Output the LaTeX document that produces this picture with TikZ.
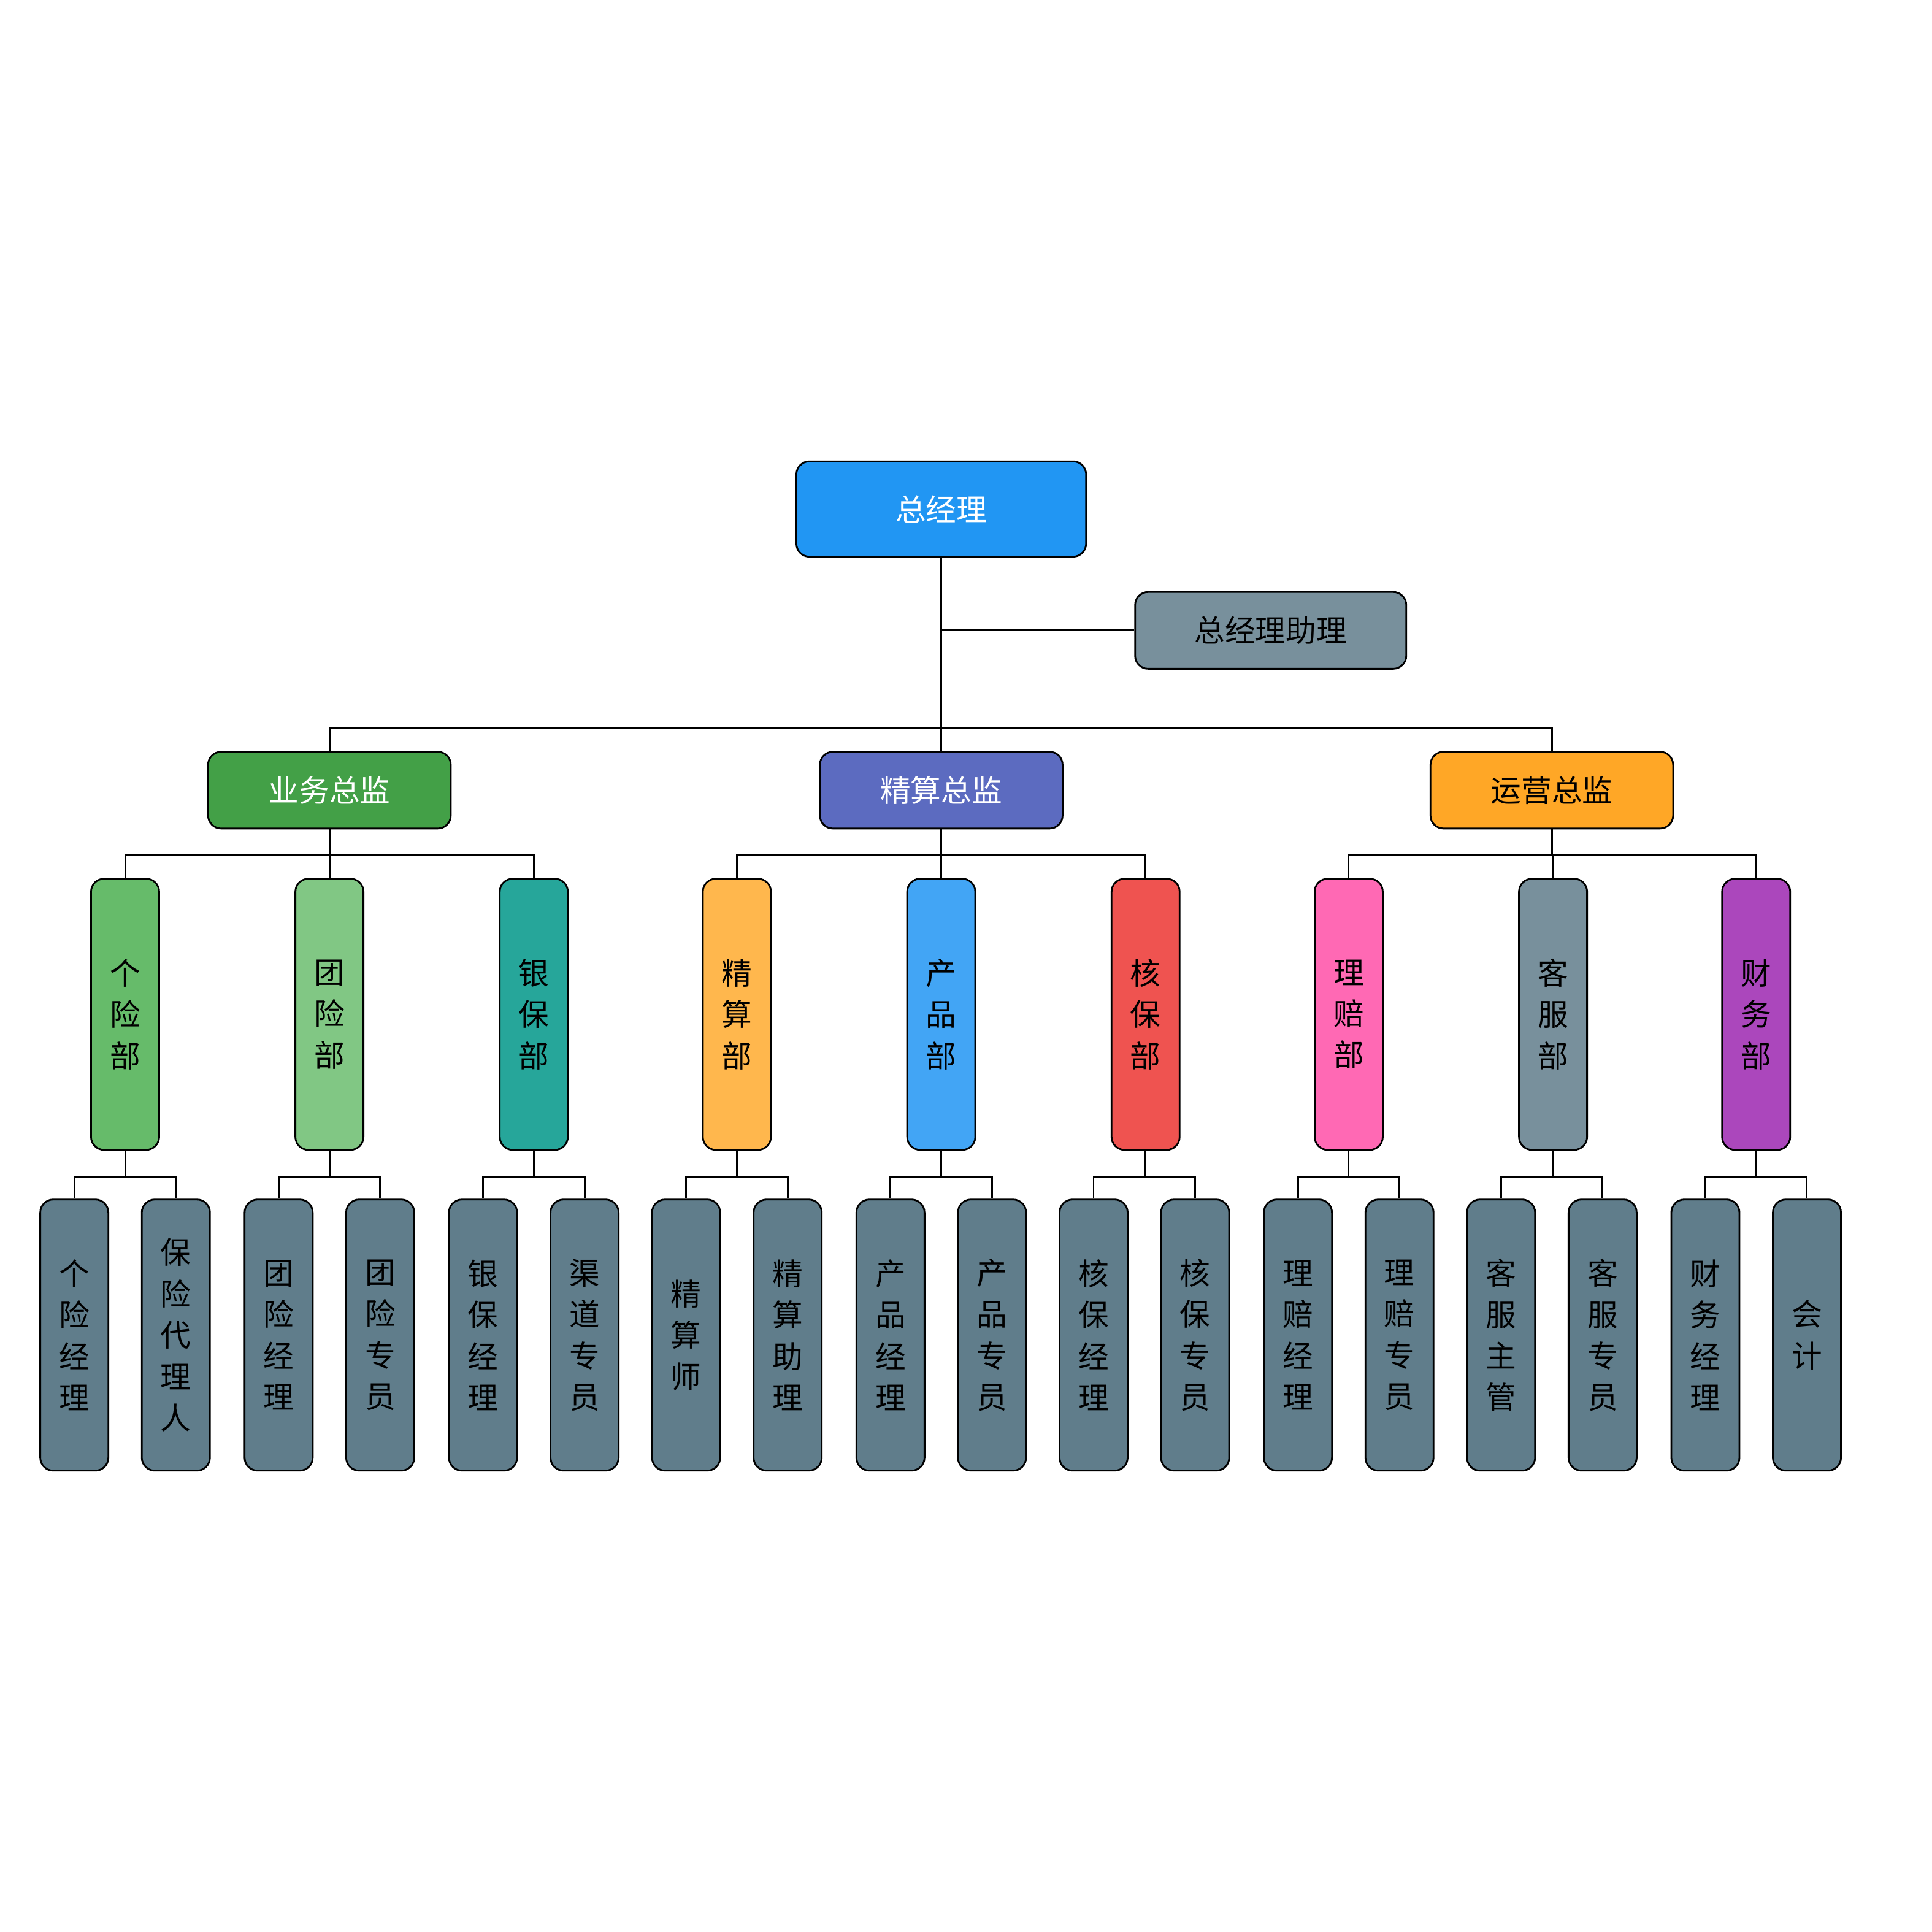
\documentclass[tikz,border=0pt]{standalone}
\usepackage{fontspec}
\setmainfont{Noto Sans CJK SC}
\tikzset{
  box/.style={draw, thick, rounded corners=6pt, inner sep=0pt, align=center,
    font=\fontsize{14}{19}\selectfont},
  leaf/.style={box, fill=leafgray, minimum width=1.1cm, minimum height=4.38cm},
  dept/.style={box, minimum width=1.1cm, minimum height=4.38cm},
  chief/.style={box, minimum width=3.92cm, minimum height=1.24cm}
}
\definecolor{leafgray}{HTML}{607D8B}
\definecolor{gmblue}{HTML}{2196F3}
\definecolor{asgray}{HTML}{78909C}
\begin{document}
\begin{tikzpicture}[x=0.02cm, y=-0.02cm]
\useasboundingbox (0,0) rectangle (1560,1560);
% top level
\node[box, fill=gmblue, text=white, minimum width=4.68cm, minimum height=1.54cm] (gm) at (760,411) {总经理};
\node[box, fill=asgray, minimum width=4.38cm, minimum height=1.24cm] (asst) at (1026,509) {总经理助理};
\coordinate (asj) at (760,509);
\draw[thick] (asj) -- (asst.west);
% directors
\node[chief, fill={rgb,255:red,67;green,160;blue,71}, text=white] (ywzj) at (266,638) {业务总监};
\node[chief, fill={rgb,255:red,92;green,107;blue,192}, text=white] (jszj) at (760,638) {精算总监};
\node[chief, fill={rgb,255:red,255;green,167;blue,38}] (yyzj) at (1253,638) {运营总监};
\foreach \d in {ywzj,jszj,yyzj}
  \draw[thick] (gm.south) -- ++(0,138) -| (\d.north);
% departments
\foreach \i/\x/\col/\txt/\up in {
  1/101/66BB6A/{个\\险\\部}/ywzj, 2/266/81C784/{团\\险\\部}/ywzj, 3/431/26A69A/{银\\保\\部}/ywzj,
  4/595/FFB74D/{精\\算\\部}/jszj, 5/760/42A5F5/{产\\品\\部}/jszj, 6/925/EF5350/{核\\保\\部}/jszj,
  7/1089/FF69B4/{理\\赔\\部}/yyzj, 8/1254/78909C/{客\\服\\部}/yyzj, 9/1418/AB47BC/{财\\务\\部}/yyzj}{
  \definecolor{dc\i}{HTML}{\col}
  \node[dept, fill=dc\i] (d\i) at (\x,819) {\txt};
  \draw[thick] (\up.south) -- ++(0,21) -| (d\i.north);
}
% staff
\foreach \j/\x/\txt/\up in {
  1/60/{个\\险\\经\\理}/d1, 2/142/{保\\险\\代\\理\\人}/d1,
  3/225/{团\\险\\经\\理}/d2, 4/307/{团\\险\\专\\员}/d2,
  5/390/{银\\保\\经\\理}/d3, 6/472/{渠\\道\\专\\员}/d3,
  7/554/{精\\算\\师}/d4, 8/636/{精\\算\\助\\理}/d4,
  9/719/{产\\品\\经\\理}/d5, 10/801/{产\\品\\专\\员}/d5,
  11/883/{核\\保\\经\\理}/d6, 12/965/{核\\保\\专\\员}/d6,
  13/1048/{理\\赔\\经\\理}/d7, 14/1130/{理\\赔\\专\\员}/d7,
  15/1212/{客\\服\\主\\管}/d8, 16/1294/{客\\服\\专\\员}/d8,
  17/1377/{财\\务\\经\\理}/d9, 18/1459/{会\\计}/d9}{
  \node[leaf] (s\j) at (\x,1078) {\txt};
  \draw[thick] (\up.south) -- ++(0,21) -| (s\j.north);
}
\end{tikzpicture}
\end{document}
